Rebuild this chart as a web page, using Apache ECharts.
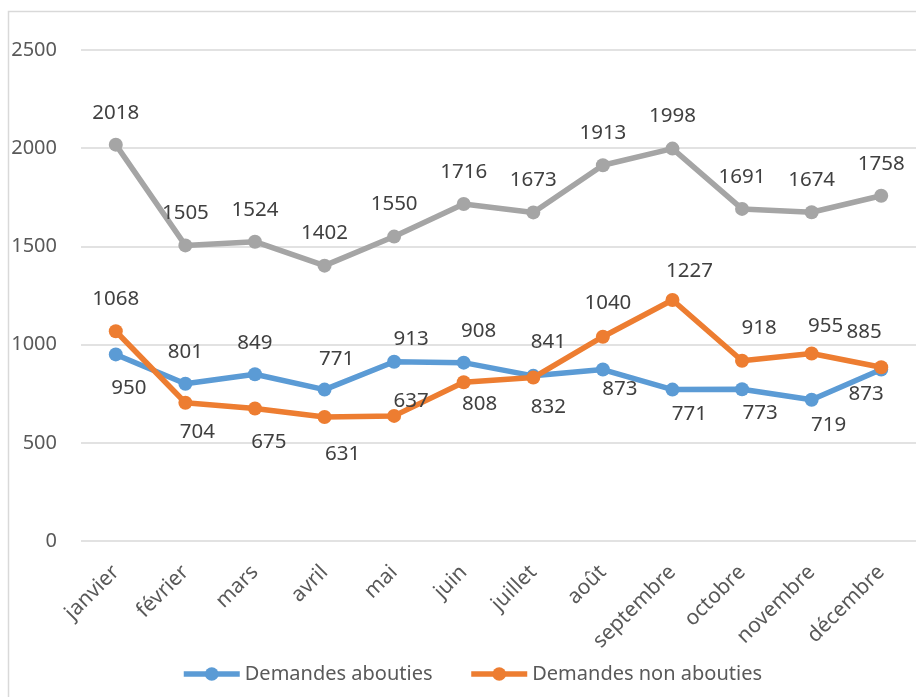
<!DOCTYPE html>
<html>
<head>
<meta charset="utf-8">
<script src="https://cdn.jsdelivr.net/npm/echarts@6/dist/echarts.min.js"></script>
<style>
html,body{margin:0;padding:0;background:#fff;}
#chart{width:916px;height:697px;}
</style>
</head>
<body>
<div id="chart"></div>
<script>
// ---- data ----
var months = ['janvier','février','mars','avril','mai','juin','juillet','août','septembre','octobre','novembre','décembre'];
var abouties = [950, 801, 849, 771, 913, 908, 841, 873, 771, 773, 719, 873];
var nonAbouties = [1068, 704, 675, 631, 637, 808, 832, 1040, 1227, 918, 955, 885];
var total = [2018, 1505, 1524, 1402, 1550, 1716, 1673, 1913, 1998, 1691, 1674, 1758];
var seriesNames = ['Demandes abouties', 'Demandes non abouties', 'Total'];
var yTicks = [0, 500, 1000, 1500, 2000, 2500];

// ---- label placement (style only) ----
var blueLabelOffsets = [[13,34],[0,-32],[0,-31],[12,-30],[17,-23],[15,-32],[15,-34],[17,20],[17,25],[18,24],[17,25],[-15,25]];
var orangeLabelOffsets = [[0,-32],[12,29],[14,34],[18,37],[17,-15],[16,22],[15,30],[5,-34],[17,-29],[17,-33],[14,-27],[-17,-35]];
var grayLabelOffset = [0,-32];

var FONT = '"Noto Sans", sans-serif';

function lineSeries(name, data, color, z, offsetFn) {
  return {
    name: name,
    type: 'line',
    data: data,
    symbol: 'circle',
    symbolSize: 14,
    z: z,
    lineStyle: { color: color, width: 5.5 },
    itemStyle: { color: color },
    label: {
      show: true,
      position: 'inside',
      color: '#404040',
      fontFamily: FONT,
      fontSize: 20.5
    },
    labelLayout: function (params) {
      var o = offsetFn(params.dataIndex);
      return { dx: o[0], dy: o[1], hideOverlap: false };
    },
    emphasis: { disabled: true },
    animation: false
  };
}

var chart = echarts.init(document.getElementById('chart'), null, { renderer: 'canvas' });
chart.setOption({
  backgroundColor: '#fff',
  animation: false,
  graphic: [{
    type: 'rect',
    left: 6, top: 9,
    shape: { x: 0, y: 0, width: 1000, height: 1000 },
    style: { fill: 'none', stroke: '#d9d9d9', lineWidth: 1.5 },
    silent: true,
    z: -10
  }],
  grid: { left: 81, top: 50, width: 843, height: 491, containLabel: false },
  legend: {
    data: [seriesNames[0], seriesNames[1]],
    left: 176,
    top: 659,
    itemWidth: 56,
    itemHeight: 17,
    itemGap: 36,
    lineStyle: { width: 5.5 },
    textStyle: { color: '#595959', fontFamily: FONT, fontSize: 20 }
  },
  xAxis: {
    type: 'category',
    data: months,
    boundaryGap: true,
    axisLine: { show: false },
    axisTick: { show: false },
    axisLabel: {
      rotate: 45,
      margin: 28,
      interval: 0,
      color: '#595959',
      fontFamily: FONT,
      fontSize: 21
    },
    splitLine: { show: false }
  },
  yAxis: {
    type: 'value',
    min: yTicks[0],
    max: yTicks[yTicks.length - 1],
    interval: yTicks[1] - yTicks[0],
    axisLine: { show: false },
    axisTick: { show: false },
    axisLabel: {
      margin: 24,
      color: '#595959',
      fontFamily: FONT,
      fontSize: 20,
      formatter: function (v) { return String(v); }
    },
    splitLine: { lineStyle: { color: '#d9d9d9', width: 1.5 } }
  },
  series: [
    lineSeries(seriesNames[0], abouties, '#5b9bd5', 3, function (i) { return blueLabelOffsets[i]; }),
    lineSeries(seriesNames[1], nonAbouties, '#ed7d31', 4, function (i) { return orangeLabelOffsets[i]; }),
    lineSeries(seriesNames[2], total, '#a5a5a5', 2, function () { return grayLabelOffset; })
  ]
});
</script>
</body>
</html>
